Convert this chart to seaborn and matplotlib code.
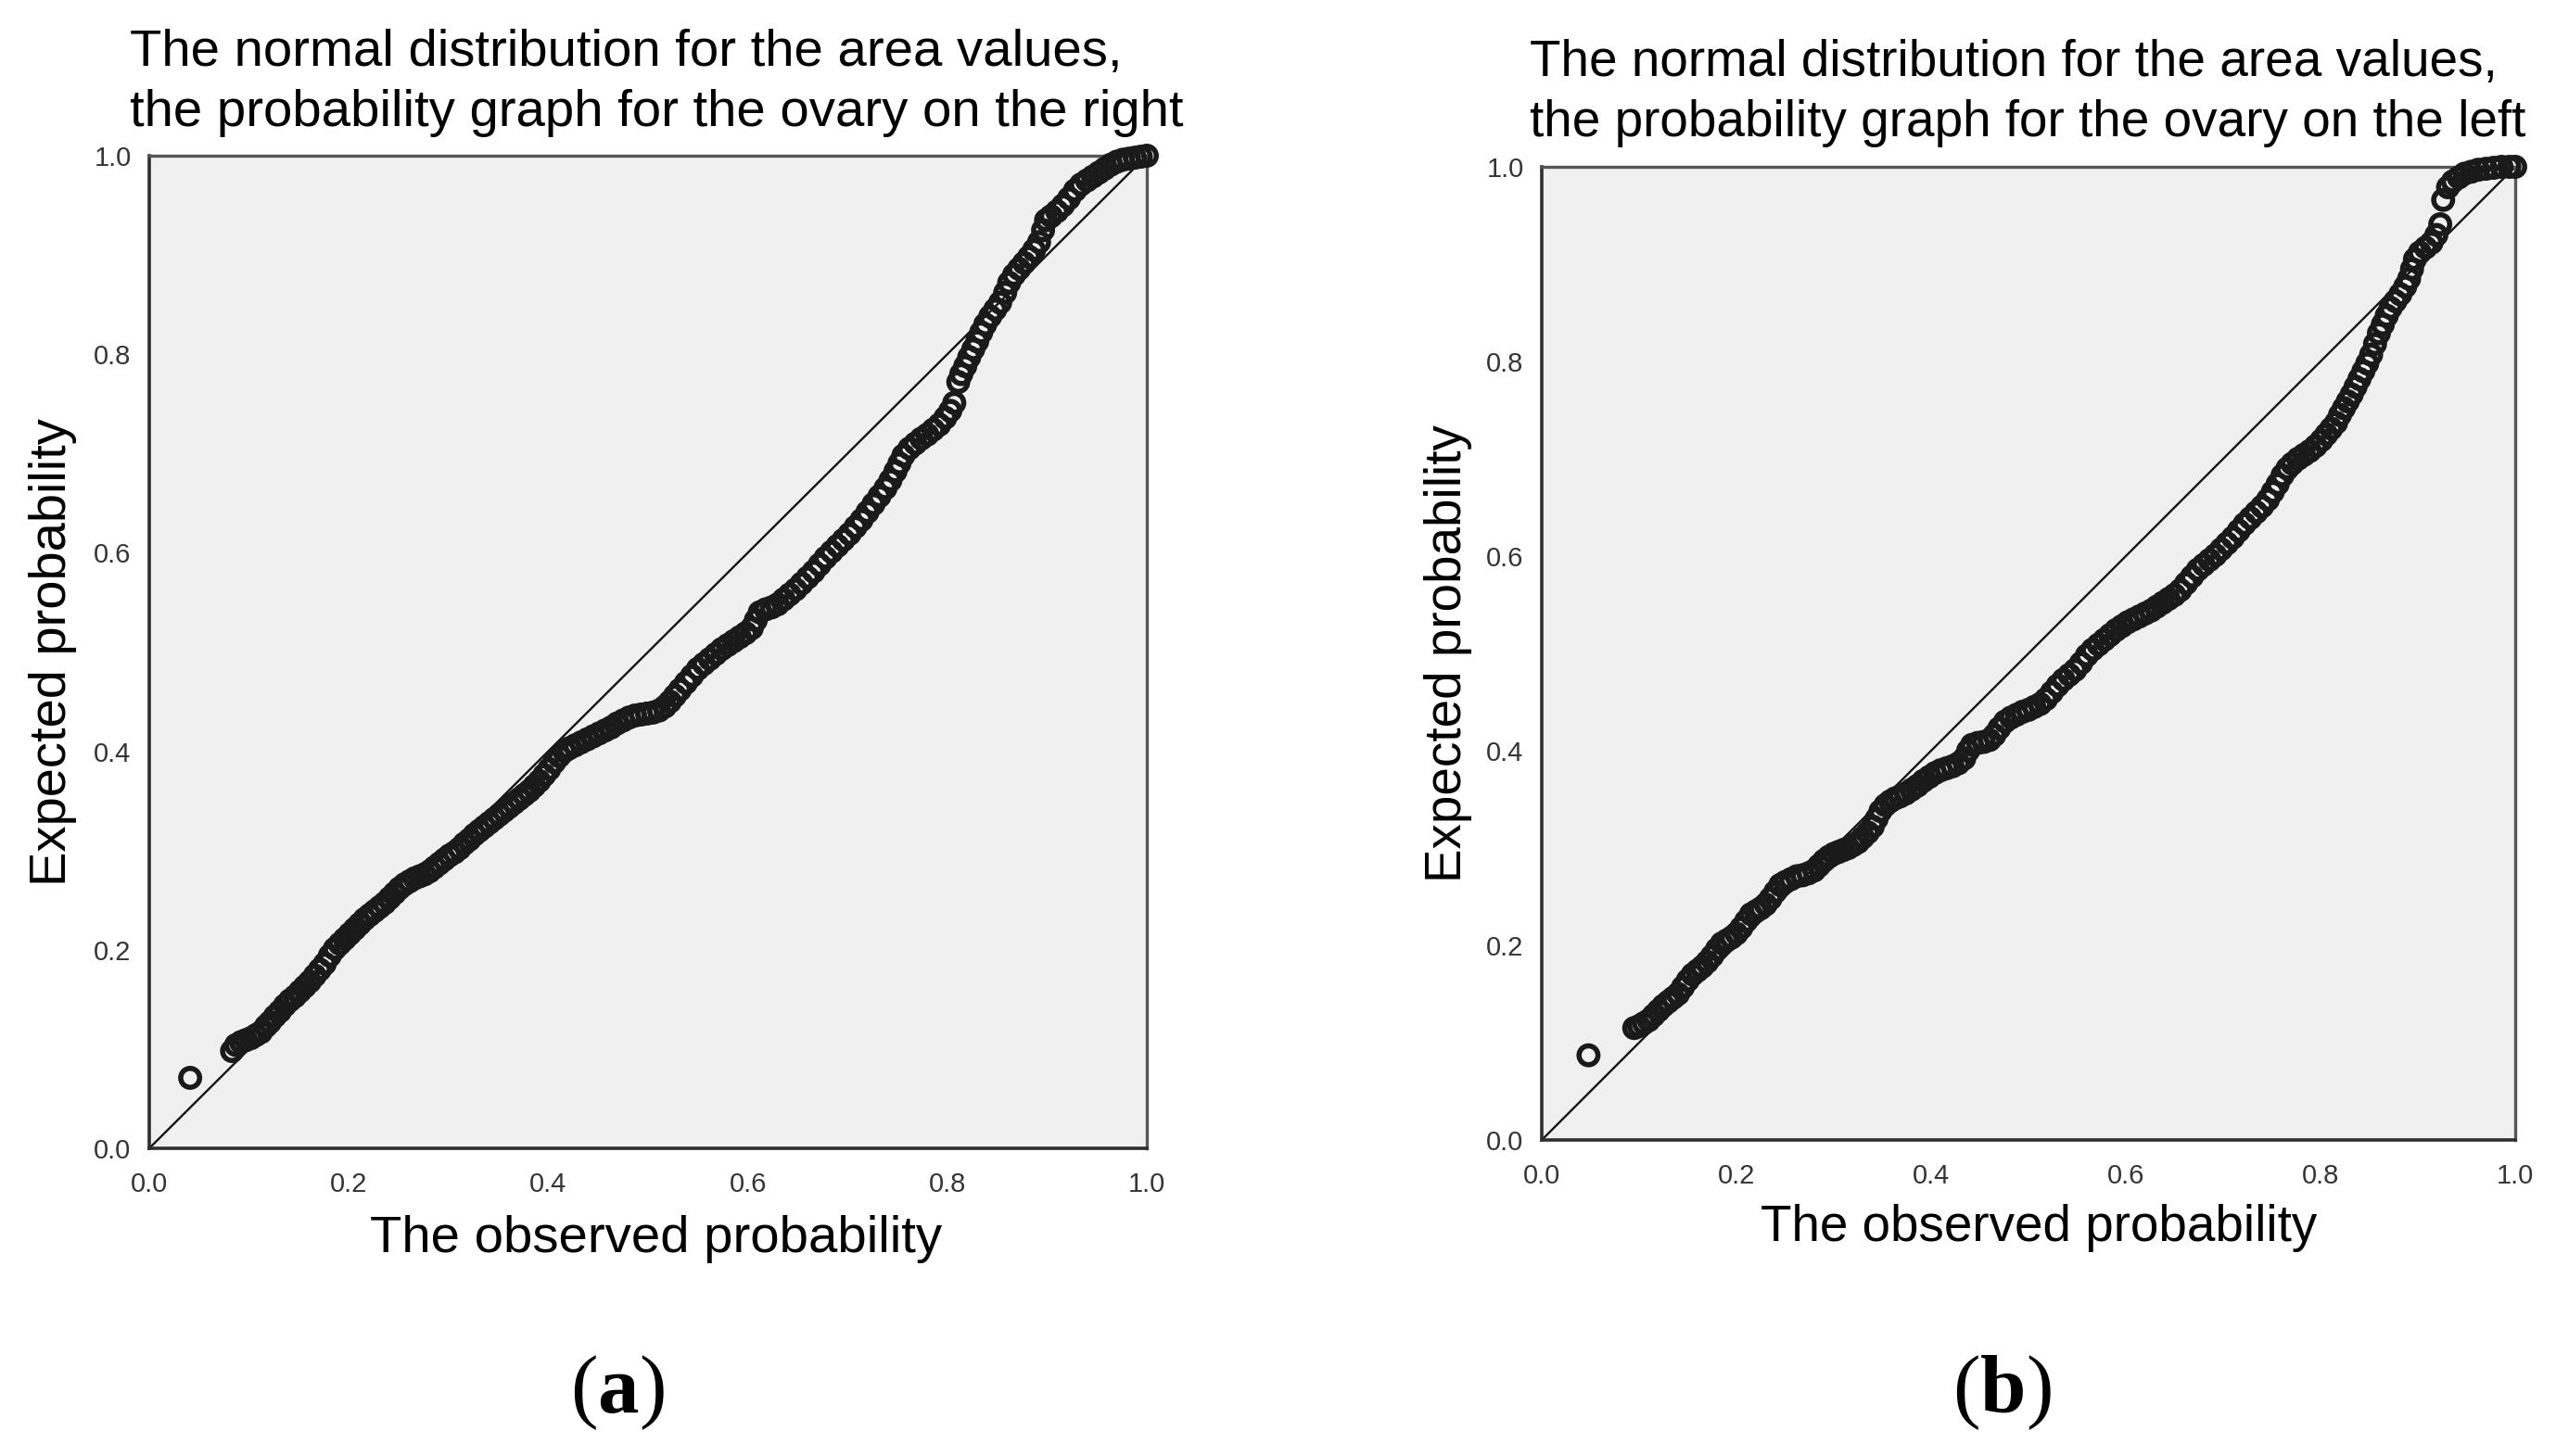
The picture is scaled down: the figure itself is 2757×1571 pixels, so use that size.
import matplotlib
matplotlib.use("Agg")
import matplotlib.pyplot as plt
import numpy as np
import pandas as pd
import seaborn as sns

# ---------------- data ----------------
tick_values = [0.0, 0.2, 0.4, 0.6, 0.8, 1.0]
tick_labels = ["0.0", "0.2", "0.4", "0.6", "0.8", "1.0"]
ref_line = [0.0, 1.0]

title_a = ["The normal distribution for the area values,",
           "the probability graph for the ovary on the right"]
title_b = ["The normal distribution for the area values,",
           "the probability graph for the ovary on the left"]
xlabel_text = "The observed probability"
ylabel_text = "Expected probability"
panel_labels = ["a", "b"]

# (a) right ovary
a_observed = [0.041, 0.083, 0.087, 0.092, 0.097, 0.102, 0.107, 0.112, 0.117, 0.121,
              0.126, 0.131, 0.136, 0.141, 0.146, 0.151, 0.156, 0.161, 0.166, 0.171,
              0.176, 0.181, 0.186, 0.191, 0.196, 0.201, 0.206, 0.211, 0.216, 0.221,
              0.226, 0.231, 0.236, 0.241, 0.246, 0.251, 0.256, 0.261, 0.266, 0.271,
              0.276, 0.281, 0.286, 0.291, 0.296, 0.301, 0.306, 0.311, 0.316, 0.321,
              0.326, 0.331, 0.336, 0.341, 0.346, 0.351, 0.356, 0.361, 0.366, 0.371,
              0.376, 0.381, 0.386, 0.391, 0.396, 0.401, 0.406, 0.411, 0.416, 0.421,
              0.427, 0.433, 0.439, 0.445, 0.451, 0.457, 0.463, 0.469, 0.475, 0.481,
              0.487, 0.493, 0.499, 0.505, 0.511, 0.517, 0.522, 0.527, 0.532, 0.538,
              0.544, 0.550, 0.556, 0.562, 0.568, 0.574, 0.580, 0.586, 0.592, 0.598,
              0.604, 0.608, 0.612, 0.618, 0.624, 0.630, 0.636, 0.642, 0.648, 0.654,
              0.660, 0.666, 0.672, 0.678, 0.684, 0.690, 0.696, 0.702, 0.708, 0.714,
              0.720, 0.726, 0.732, 0.738, 0.743, 0.748, 0.752, 0.756, 0.762, 0.768,
              0.774, 0.780, 0.786, 0.792, 0.798, 0.803, 0.807, 0.811, 0.814, 0.818,
              0.822, 0.826, 0.830, 0.834, 0.838, 0.843, 0.848, 0.853, 0.858, 0.862,
              0.867, 0.872, 0.877, 0.882, 0.887, 0.892, 0.896, 0.899, 0.904, 0.910,
              0.916, 0.922, 0.928, 0.934, 0.940, 0.946, 0.952, 0.958, 0.964, 0.970,
              0.976, 0.982, 0.988, 0.994, 1.000]
a_expected = [0.071, 0.098, 0.104, 0.107, 0.109, 0.111, 0.114, 0.117, 0.123, 0.127,
              0.133, 0.138, 0.144, 0.149, 0.153, 0.158, 0.163, 0.168, 0.174, 0.180,
              0.186, 0.194, 0.201, 0.206, 0.211, 0.216, 0.221, 0.226, 0.231, 0.235,
              0.239, 0.243, 0.247, 0.252, 0.257, 0.262, 0.266, 0.269, 0.272, 0.274,
              0.276, 0.279, 0.283, 0.287, 0.291, 0.295, 0.298, 0.302, 0.307, 0.311,
              0.316, 0.320, 0.324, 0.328, 0.332, 0.336, 0.340, 0.344, 0.348, 0.352,
              0.356, 0.360, 0.365, 0.370, 0.376, 0.382, 0.389, 0.395, 0.400, 0.403,
              0.406, 0.409, 0.412, 0.415, 0.418, 0.421, 0.424, 0.428, 0.431, 0.434,
              0.436, 0.437, 0.438, 0.439, 0.441, 0.445, 0.450, 0.456, 0.462, 0.469,
              0.476, 0.483, 0.488, 0.493, 0.498, 0.503, 0.507, 0.511, 0.515, 0.519,
              0.524, 0.532, 0.540, 0.543, 0.545, 0.548, 0.553, 0.558, 0.563, 0.569,
              0.575, 0.581, 0.588, 0.595, 0.601, 0.607, 0.613, 0.619, 0.626, 0.633,
              0.641, 0.649, 0.657, 0.665, 0.673, 0.682, 0.690, 0.698, 0.705, 0.710,
              0.715, 0.719, 0.724, 0.729, 0.736, 0.743, 0.751, 0.772, 0.780, 0.788,
              0.797, 0.805, 0.813, 0.822, 0.830, 0.838, 0.845, 0.852, 0.862, 0.872,
              0.880, 0.886, 0.892, 0.898, 0.905, 0.913, 0.925, 0.935, 0.939, 0.944,
              0.950, 0.957, 0.965, 0.971, 0.975, 0.979, 0.983, 0.987, 0.991, 0.994,
              0.996, 0.997, 0.998, 0.999, 1.000]

# (b) left ovary
b_observed = [0.048, 0.095, 0.100, 0.105, 0.110, 0.115, 0.120, 0.125, 0.130, 0.135,
              0.140, 0.145, 0.150, 0.155, 0.160, 0.165, 0.170, 0.175, 0.180, 0.185,
              0.190, 0.195, 0.200, 0.205, 0.210, 0.215, 0.220, 0.225, 0.230, 0.235,
              0.240, 0.245, 0.250, 0.256, 0.262, 0.268, 0.274, 0.280, 0.285, 0.290,
              0.295, 0.300, 0.305, 0.310, 0.315, 0.320, 0.325, 0.330, 0.335, 0.340,
              0.344, 0.348, 0.353, 0.358, 0.363, 0.368, 0.374, 0.380, 0.386, 0.392,
              0.398, 0.404, 0.410, 0.416, 0.422, 0.428, 0.434, 0.438, 0.442, 0.448,
              0.454, 0.460, 0.465, 0.470, 0.476, 0.482, 0.488, 0.494, 0.500, 0.506,
              0.512, 0.518, 0.524, 0.530, 0.536, 0.542, 0.548, 0.554, 0.560, 0.566,
              0.572, 0.578, 0.584, 0.590, 0.596, 0.602, 0.608, 0.614, 0.620, 0.626,
              0.632, 0.638, 0.644, 0.650, 0.656, 0.662, 0.668, 0.674, 0.680, 0.686,
              0.692, 0.698, 0.704, 0.710, 0.716, 0.722, 0.728, 0.734, 0.740, 0.746,
              0.751, 0.756, 0.761, 0.766, 0.771, 0.777, 0.783, 0.789, 0.795, 0.801,
              0.806, 0.811, 0.816, 0.820, 0.824, 0.828, 0.832, 0.836, 0.840, 0.844,
              0.848, 0.852, 0.856, 0.860, 0.864, 0.868, 0.872, 0.877, 0.882, 0.887,
              0.891, 0.894, 0.897, 0.902, 0.908, 0.914, 0.919, 0.923, 0.926, 0.931,
              0.936, 0.942, 0.948, 0.955, 0.962, 0.970, 0.978, 0.986, 0.994, 1.000]
b_expected = [0.087, 0.115, 0.117, 0.120, 0.123, 0.128, 0.133, 0.138, 0.142, 0.146,
              0.150, 0.157, 0.164, 0.170, 0.174, 0.178, 0.183, 0.189, 0.196, 0.202,
              0.205, 0.208, 0.212, 0.218, 0.225, 0.232, 0.235, 0.238, 0.242, 0.248,
              0.255, 0.262, 0.265, 0.268, 0.271, 0.272, 0.274, 0.277, 0.282, 0.287,
              0.291, 0.294, 0.296, 0.298, 0.300, 0.303, 0.306, 0.311, 0.316, 0.322,
              0.330, 0.338, 0.344, 0.348, 0.351, 0.353, 0.356, 0.360, 0.364, 0.369,
              0.373, 0.377, 0.380, 0.382, 0.384, 0.387, 0.392, 0.400, 0.406, 0.408,
              0.409, 0.411, 0.416, 0.423, 0.430, 0.434, 0.437, 0.440, 0.442, 0.445,
              0.448, 0.453, 0.460, 0.467, 0.473, 0.478, 0.483, 0.490, 0.498, 0.504,
              0.509, 0.514, 0.519, 0.524, 0.528, 0.532, 0.535, 0.538, 0.541, 0.544,
              0.548, 0.552, 0.556, 0.560, 0.565, 0.572, 0.579, 0.586, 0.591, 0.596,
              0.601, 0.607, 0.613, 0.619, 0.626, 0.633, 0.639, 0.645, 0.651, 0.658,
              0.666, 0.674, 0.683, 0.690, 0.695, 0.700, 0.704, 0.708, 0.713, 0.719,
              0.725, 0.731, 0.737, 0.745, 0.752, 0.759, 0.766, 0.774, 0.782, 0.790,
              0.798, 0.807, 0.818, 0.829, 0.838, 0.847, 0.855, 0.862, 0.869, 0.877,
              0.885, 0.895, 0.905, 0.912, 0.917, 0.922, 0.930, 0.941, 0.966, 0.979,
              0.985, 0.989, 0.993, 0.995, 0.997, 0.998, 0.999, 1.000, 1.000, 1.000]

df_a = pd.DataFrame({"observed": a_observed, "expected": a_expected})
df_b = pd.DataFrame({"observed": b_observed, "expected": b_expected})

# ---------------- style ----------------
sns.set_theme(style="white")
plt.rcParams["font.family"] = ["Liberation Sans", "DejaVu Sans"]
plt.rcParams["mathtext.fontset"] = "custom"
plt.rcParams["mathtext.rm"] = "Liberation Serif"
plt.rcParams["mathtext.bf"] = "Liberation Serif:bold"

W, H = 2757, 1571
fig = plt.figure(figsize=(W / 100, H / 100), dpi=100)
fig.patch.set_facecolor("white")

# axes rectangles in pixels: left, top, width, height
rects = [(161, 168, 1076, 1071), (1663, 180, 1050, 1050)]
frames = [df_a, df_b]
titles = [title_a, title_b]
title_xy = [(140, 71, 136, 40.6), (1650, 82, 147, 39.5)]
xlab = [(0.508, -0.1046, 40.6), (0.511, -0.1038, 39.4)]
ylab = [(-0.0967, 40.4), (-0.0962, 39.4)]
letters_xy = [(666, 1503), (2159, 1503)]

for i in range(2):
    l, t, w, h = rects[i]
    ax = fig.add_axes([l / W, 1 - (t + h) / H, w / W, h / H])
    ax.set_facecolor("#f0f0f0")
    ax.plot(ref_line, ref_line, color="#141414", lw=1.7, zorder=2)
    sns.scatterplot(data=frames[i], x="observed", y="expected", ax=ax,
                    s=215, marker="o", facecolor="none", edgecolor="#1a1a1a",
                    linewidth=4.0, zorder=3, clip_on=False, legend=False)
    ax.set_xlim(0, 1)
    ax.set_ylim(0, 1)
    ax.set_xticks(tick_values)
    ax.set_xticklabels(tick_labels)
    ax.set_yticks(tick_values)
    ax.set_yticklabels(tick_labels)
    ax.tick_params(axis="both", which="major", direction="out", length=13,
                   width=1.8, color="#333333", labelcolor="#353535",
                   labelsize=21)
    ax.tick_params(axis="x", pad=5)
    ax.tick_params(axis="y", pad=1)
    for side in ["left", "bottom"]:
        ax.spines[side].set_color("#2e2e2e")
        ax.spines[side].set_linewidth(2.6)
    for side in ["top", "right"]:
        ax.spines[side].set_color("#555555")
        ax.spines[side].set_linewidth(2.4)
    ax.set_xlabel(xlabel_text, fontsize=xlab[i][2], color="black", va="baseline")
    ax.xaxis.set_label_coords(xlab[i][0], xlab[i][1])
    ax.set_ylabel(ylabel_text, fontsize=ylab[i][1], color="black", va="center")
    ax.yaxis.set_label_coords(ylab[i][0], 0.5)

    tx, ty1, ty2, fs = title_xy[i]
    fig.text(tx / W, 1 - ty1 / H, titles[i][0], fontsize=fs, color="black",
             ha="left", va="baseline")
    fig.text(tx / W, 1 - ty2 / H, titles[i][1], fontsize=fs, color="black",
             ha="left", va="baseline")

    lx, ly = letters_xy[i]
    fig.text(lx / W, 1 - ly / H, "($\\mathbf{" + panel_labels[i] + "}$)",
             fontsize=64, family="Liberation Serif", color="black",
             ha="center", va="center")

fig.savefig("out.png", dpi=100, facecolor="white")
